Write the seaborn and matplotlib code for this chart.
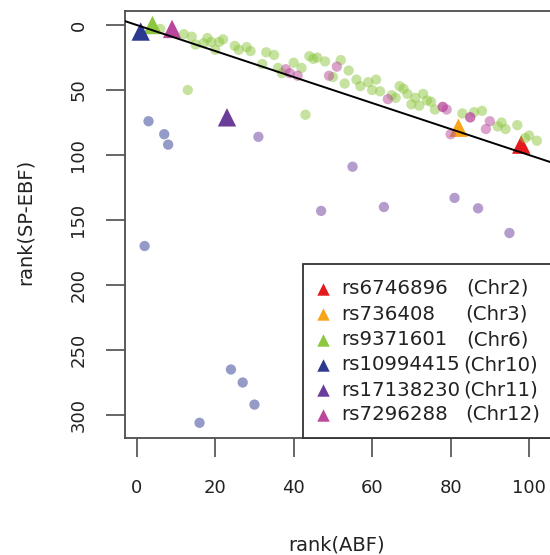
import matplotlib
matplotlib.use("Agg")
import matplotlib.pyplot as plt
import seaborn as sns
import pandas as pd
from matplotlib.patches import Rectangle

# ---- data ----
# lead SNPs (triangles)
snp_names = ["rs6746896", "rs736408", "rs9371601", "rs10994415", "rs17138230", "rs7296288"]
snp_chr = ["Chr2", "Chr3", "Chr6", "Chr10", "Chr11", "Chr12"]
snp_abf = [98, 82, 4, 1, 23, 9]
snp_spebf = [92, 79, 0, 5, 71, 3]

# other SNPs in each region (circles)
chr6_abf = [6, 12, 14, 15, 18, 17, 19, 21, 22, 20, 25, 26, 28, 29, 33, 35, 32, 36, 37, 40,
            42, 44, 45, 46, 48, 50, 13, 43, 52, 54, 53, 56, 57, 59, 61, 60, 62, 65, 66, 67,
            68, 69, 71, 73, 70, 72, 74, 75, 76, 83, 86, 88, 93, 92, 94, 97, 100, 99, 102]
chr6_spebf = [3, 7, 9, 15, 10, 14, 13, 13, 11, 19, 16, 19, 17, 20, 21, 23, 30, 33, 37, 29,
              33, 24, 26, 25, 28, 40, 50, 69, 27, 35, 45, 42, 47, 44, 42, 50, 51, 54, 56, 47,
              49, 53, 56, 53, 61, 62, 58, 59, 65, 68, 67, 66, 75, 78, 80, 77, 85, 87, 89]
chr12_abf = [38, 39, 41, 49, 51, 64, 78, 78, 79, 85, 85, 90, 89, 80]
chr12_spebf = [34, 37, 39, 39, 32, 57, 63, 63, 65, 71, 71, 74, 80, 84]
chr10_abf = [3, 7, 8, 2, 24, 27, 30, 16]
chr10_spebf = [74, 84, 92, 170, 265, 275, 292, 306]
chr11_abf = [31, 47, 55, 63, 81, 87, 95]
chr11_spebf = [86, 143, 109, 140, 133, 141, 160]

palette = {"Chr2": "#E41A1C", "Chr3": "#F9A51A", "Chr6": "#8DC63F",
           "Chr10": "#2B3990", "Chr11": "#6A3D9A", "Chr12": "#B9479B"}

circles = pd.concat([
    pd.DataFrame({"abf": chr6_abf, "spebf": chr6_spebf, "chr": "Chr6"}),
    pd.DataFrame({"abf": chr12_abf, "spebf": chr12_spebf, "chr": "Chr12"}),
    pd.DataFrame({"abf": chr10_abf, "spebf": chr10_spebf, "chr": "Chr10"}),
    pd.DataFrame({"abf": chr11_abf, "spebf": chr11_spebf, "chr": "Chr11"}),
], ignore_index=True)
leads = pd.DataFrame({"abf": snp_abf, "spebf": snp_spebf, "chr": snp_chr, "name": snp_names})

# ---- plot ----
sns.set_style("white")
plt.rcParams["font.family"] = ["DejaVu Sans"]

W, H = 550, 555
fig = plt.figure(figsize=(W / 100, H / 100), dpi=100)
ax_l, ax_r, ax_t, ax_b = 125, 552.6, 11, 438
ax = fig.add_axes([ax_l / W, 1 - ax_b / H, (ax_r - ax_l) / W, (ax_b - ax_t) / H])

sns.scatterplot(data=leads, x="abf", y="spebf", hue="chr", palette=palette, marker="^",
                s=175, linewidth=0, legend=False, ax=ax, zorder=2)
sns.scatterplot(data=circles, x="abf", y="spebf", hue="chr", palette=palette, alpha=0.5,
                s=55, linewidth=0, legend=False, ax=ax, zorder=3)
ax.axline((0, 0), slope=1, color="black", lw=1.4, zorder=4)

ax.set_xlim(-3, 106)
ax.set_ylim(317.7, -10.8)
ax.set_xticks([0, 20, 40, 60, 80, 100])
ax.set_yticks([0, 50, 100, 150, 200, 250, 300])
for s in ax.spines.values():
    s.set_color("#4d4d4d")
    s.set_linewidth(1.3)
ax.tick_params(axis="both", direction="out", length=13.5, width=1.2, color="#4d4d4d",
               labelsize=13, labelcolor="#222222", left=True, bottom=True)
ax.tick_params(axis="x", pad=16)
plt.setp(ax.get_yticklabels(), rotation=90, va="center", ha="center")
ax.yaxis.set_tick_params(pad=20)

ax.set_xlabel("rank(ABF)", fontsize=14, color="#222222")
ax.set_ylabel("rank(SP-EBF)", fontsize=14, color="#222222")
axw, axh = ax_r - ax_l, ax_b - ax_t
ax.xaxis.set_label_coords((337 - ax_l) / axw, -(545 - ax_b) / axh)
ax.xaxis.label.set_va("center")
ax.yaxis.set_label_coords((25 - ax_l) / axw, (ax_b - 222) / axh)
ax.yaxis.label.set_va("center")

# legend box
def fx(px):
    return (px - ax_l) / axw

def fy(py):
    return (ax_b - py) / axh

ax.add_patch(Rectangle((fx(303), 0), 0.7, fy(264), transform=ax.transAxes,
                       facecolor="white", edgecolor="#333333", lw=1.3, zorder=6, clip_on=False))
row_y = [288.5, 314, 339.5, 365, 390, 414.5]
chr_x = [466.7, 465, 466.7, 463.3, 463.3, 465.7]
for i in range(len(snp_names)):
    ax.scatter([fx(322.7)], [fy(row_y[i])], marker="^", s=80, color=palette[snp_chr[i]],
               linewidths=0, transform=ax.transAxes, zorder=7, clip_on=False)
    ax.text(fx(341.5), fy(row_y[i]), snp_names[i], transform=ax.transAxes, fontsize=14.2,
            va="center", ha="left", color="#222222", zorder=7)
    ax.text(fx(chr_x[i]), fy(row_y[i]), "(" + snp_chr[i] + ")", transform=ax.transAxes,
            fontsize=14.2, va="center", ha="left", color="#222222", zorder=7)

fig.savefig("out.png", dpi=100)
